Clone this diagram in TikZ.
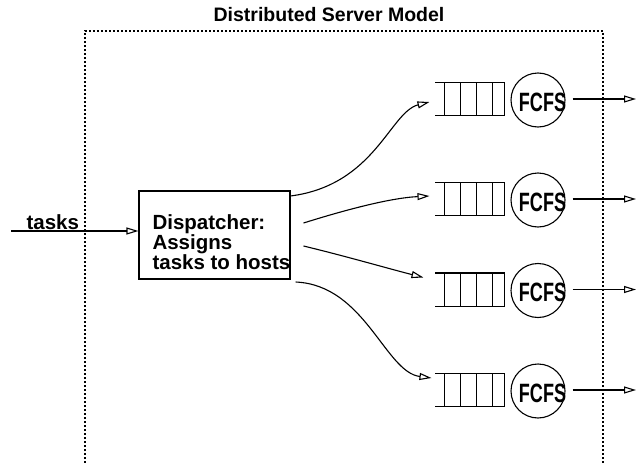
\documentclass[tikz,border=0pt]{standalone}
\usepackage{fontspec}
\setmainfont{Liberation Sans}
\usetikzlibrary{arrows.meta}

\tikzset{
  txt/.style={inner sep=0pt, font=\fontsize{20.5}{20}\selectfont\bfseries},
  queuebox/.style={minimum width=68pt, minimum height=32pt, inner sep=0pt},
  server/.style={draw, circle, minimum size=54pt, inner sep=0pt},
  flow/.style={-{Triangle[open,length=12pt,width=7pt]}},
}

\begin{document}
\begin{tikzpicture}[x=1pt,y=-1pt,line width=1.1pt]
	\useasboundingbox (0,0) rectangle (638,463);

	\node[txt, font=\fontsize{19.5}{20}\selectfont\bfseries, anchor=base] (title) at (329,21) {Distributed Server Model};
	% dotted frame, runs off the bottom
	\draw[line width=1.3pt, dash pattern=on 2pt off 2pt] (85,463) -- (85,31) -- (603,31) -- (603,463);

	\node[draw, minimum width=151pt, minimum height=88pt] (disp) at (214.5,235) {};
	\node[txt, anchor=north west, align=left] (disptext) at (152,214) {Dispatcher:\\Assigns\\tasks to hosts};

	\coordinate (in) at (11,231);
	\node[txt, anchor=base west] (tasks) at (26,229) {tasks};
	\draw[flow] (in) -- (in -| disp.west);

	% queues with their servers
	\foreach \i/\y in {1/99,2/199,3/289.5,4/390}{
		\node[queuebox] (q\i) at (470,\y) {};
		\draw (q\i.north west) -- (q\i.north east) -- (q\i.south east) -- (q\i.south west);
		\foreach \x in {9,25,41,57}
			\draw ([xshift=\x]q\i.north west) -- ([xshift=\x]q\i.south west);
		\node[server] (s\i) at (538,\y+1) {};
		\node[txt, font=\fontsize{26.5}{26}\selectfont\bfseries] (f\i) at (542.5,\y+3) {\scalebox{0.68}[1]{FCFS}};
		\coordinate (o\i) at (636,\y);
		\draw[flow] (s\i.east |- o\i) ++(7,0) -- (o\i);
	}

	% dispatcher to the queues
	\draw[flow] ([shift={(0,-39)}]disp.east) .. controls (375,185) and (390,112) .. ([shift={(-6,3)}]q1.west);
	\draw[flow] ([shift={(13,-12)}]disp.east) .. controls (345,210) and (390,198) .. ([shift={(-6,-3)}]q2.west);
	\draw[flow] ([shift={(13,11)}]disp.east) .. controls (345,256) and (390,269) .. ([shift={(-12,-12)}]q3.west);
	\draw[flow] ([shift={(5,47)}]disp.east) .. controls (365,285) and (385,372) .. ([shift={(-4,-12)}]q4.west);
\end{tikzpicture}
\end{document}
